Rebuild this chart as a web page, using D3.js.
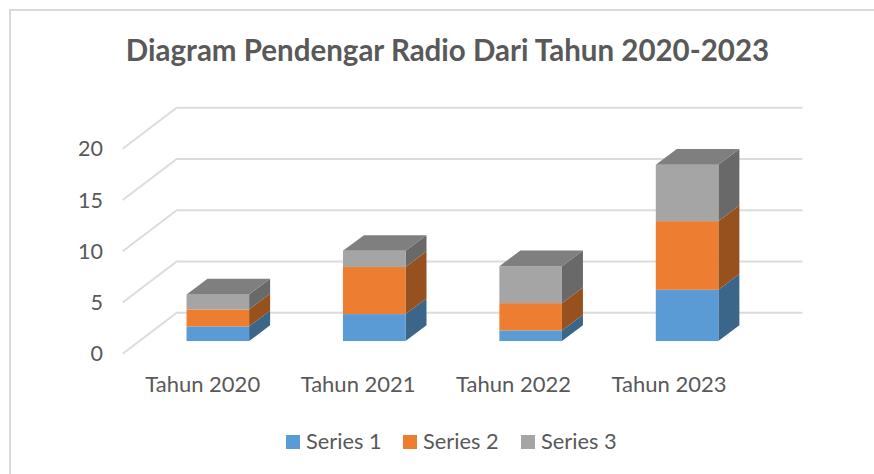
<!DOCTYPE html>
<html><head><meta charset="utf-8">
<script src="https://cdn.jsdelivr.net/npm/d3@7/dist/d3.min.js"></script>
<style>html,body{margin:0;background:#fff}svg{display:block}</style></head>
<body><svg id="c" width="874" height="474"></svg>
<script>
const titleText = "Diagram Pendengar Radio Dari Tahun 2020-2023";
const categories = ["Tahun 2020","Tahun 2021","Tahun 2022","Tahun 2023"];
const seriesNames = ["Series 1","Series 2","Series 3"];
const series1 = [1.43,2.63,1.04,5.0];
const series2 = [1.65,4.6,2.66,6.7];
const series3 = [1.47,1.57,3.6,5.5];
const yTicks = [0,5,10,15,20];
const frontColors = ["#5b9bd5","#ed7d31","#a5a5a5"];
const sideColors = ["#3c6689","#97511f","#696969"];
const topColors = ["#4a7dab","#be6427","#7f7f7f"];
const fontFamily = "Lato, sans-serif";

const svg = d3.select("#c");
const textColor = "#595959";
const floorDx = 54, floorDy = 41;
const barDx = 21, barDy = 15.7;
const y = d3.scaleLinear().domain([0,20]).range([353.7,148.7]);
const x = d3.scaleBand().domain(categories).range([122.7,748.4]).paddingInner(0.6).paddingOuter(0.3);
const xLabel = d3.scalePoint().domain(categories).range([202.7,669]);

// frame
svg.append("path").attr("d","M10,474V10H874").attr("fill","none").attr("stroke","#d9d9d9").attr("stroke-width",2);

svg.append("text").attr("x",447.5).attr("y",61).attr("text-anchor","middle")
  .attr("font-family",fontFamily).attr("font-weight",700).attr("font-size",29.5).attr("fill",textColor).text(titleText);

// gridlines
const grid = svg.append("g").attr("fill","none").attr("stroke","#dcdcdc").attr("stroke-width",2);
yTicks.forEach(t=>{
  const yy=y(t);
  grid.append("path").attr("d",`M${x.range()[0]},${yy}L${x.range()[0]+floorDx},${yy-floorDy}H${x.range()[1]+floorDx}`);
});

// y labels
svg.append("g").selectAll("text").data(yTicks).join("text")
  .attr("x",103).attr("y",d=>y(d)+7.7).attr("text-anchor","end")
  .attr("font-family",fontFamily).attr("font-size",21.5).attr("fill",textColor).text(d=>d);

// bars
const stack = d3.stack().keys([0,1,2]).value((d,k)=>d[k]);
const rows = categories.map((c,i)=>[series1[i],series2[i],series3[i]]);
const layers = stack(rows);
const offX = (floorDx-barDx)/2 + 0.4, offY=(floorDy-barDy)/2;
const bars = svg.append("g");
layers.forEach((layer,k)=>{
  layer.forEach((d,i)=>{
    const x0=x(categories[i])+offX, x1=x0+x.bandwidth();
    const y0=y(d[0])-offY, y1=y(d[1])-offY;
    bars.append("path").attr("fill",sideColors[k])
      .attr("d",`M${x1},${y0}L${x1+barDx},${y0-barDy}V${y1-barDy}L${x1},${y1}Z`);
    bars.append("rect").attr("x",x0).attr("y",y1).attr("width",x1-x0).attr("height",y0-y1).attr("fill",frontColors[k]);
    if(k===2) bars.append("path").attr("fill",topColors[k])
      .attr("d",`M${x0},${y1}L${x0+barDx},${y1-barDy}H${x1+barDx}L${x1},${y1}Z`);
  });
});

// category labels
svg.append("g").selectAll("text").data(categories).join("text")
  .attr("x",d=>xLabel(d)).attr("y",391.5).attr("text-anchor","middle")
  .attr("font-family",fontFamily).attr("font-size",22).attr("fill",textColor).text(d=>d);

// legend
const legendX=[286,403,521];
const lg=svg.append("g");
seriesNames.forEach((s,i)=>{
  lg.append("rect").attr("x",legendX[i]).attr("y",435).attr("width",14).attr("height",14).attr("fill",frontColors[i]);
  lg.append("text").attr("x",legendX[i]+20).attr("y",449.3).attr("font-family",fontFamily).attr("font-size",21.8).attr("fill",textColor).text(s);
});
</script></body></html>
